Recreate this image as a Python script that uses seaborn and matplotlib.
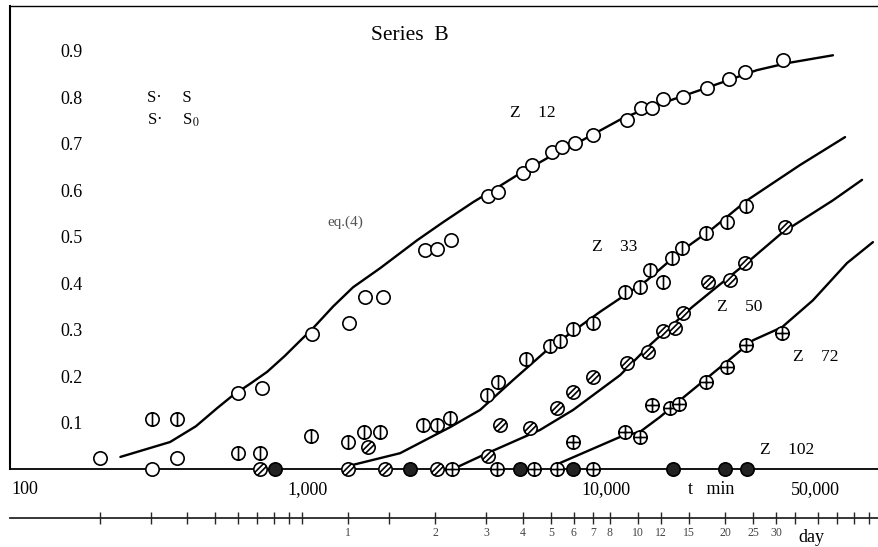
import numpy as np
import matplotlib
matplotlib.use("Agg")
import matplotlib.pyplot as plt
from matplotlib.path import Path
from matplotlib.ticker import NullLocator, NullFormatter
import seaborn as sns

# ---------------- data (t in minutes, S/S0 fraction) ----------------
z12_t = [201, 304, 370, 601, 727, 1081, 1451, 1648, 1901, 2654, 2919, 3262, 4377, 4737,
         5779, 6213, 7271, 7875, 8735, 10080, 13190, 14750, 16090, 17560, 20580, 24910,
         29660, 33650, 45540]
z12_v = [0.024, 0.0, 0.024, 0.163, 0.174, 0.29, 0.314, 0.37, 0.37, 0.471, 0.473, 0.492,
         0.587, 0.596, 0.637, 0.654, 0.682, 0.692, 0.701, 0.718, 0.75, 0.776, 0.776, 0.796,
         0.80, 0.82, 0.839, 0.854, 0.88]

z33_t = [304, 370, 601, 716, 1074, 1440, 1635, 1856, 2612, 2919, 3236, 4342, 4737, 5920,
         7161, 7752, 8597, 10080, 12990, 14630, 15840, 17570, 18860, 20420, 24710, 29200,
         33940]
z33_v = [0.107, 0.107, 0.034, 0.034, 0.071, 0.058, 0.08, 0.08, 0.095, 0.095, 0.11, 0.159,
         0.187, 0.237, 0.265, 0.275, 0.301, 0.314, 0.381, 0.391, 0.428, 0.402, 0.454, 0.475,
         0.508, 0.531, 0.566]

z50_t = [716, 1440, 1688, 1931, 2919, 4377, 4814, 6110, 7569, 8597, 10080, 13190, 15600,
         17570, 19320, 20590, 25100, 29900, 33680, 46270]
z50_v = [0.0, 0.0, 0.047, 0.0, 0.0, 0.028, 0.095, 0.088, 0.131, 0.166, 0.198, 0.228, 0.252,
         0.297, 0.303, 0.335, 0.402, 0.406, 0.443, 0.52]

z72_t = [3289, 4702, 6307, 7569, 8597, 10080, 12990, 14630, 16090, 18570, 19900, 24710,
         29200, 33940, 45170]
z72_v = [0.0, 0.0, 0.0, 0.0, 0.058, 0.0, 0.08, 0.069, 0.138, 0.131, 0.14, 0.187, 0.219,
         0.267, 0.293]

z102_t = [807, 2356, 5642, 8597, 19010, 28730, 34210]
z102_v = [0.0, 0.0, 0.0, 0.0, 0.0, 0.0, 0.0]

# eq.(4) curves
c12_t = [236, 350, 430, 509, 578, 660, 757, 870, 984, 1090, 1280, 1498, 1857, 2490, 3063,
         3885, 4925, 5510, 7200, 9300, 12780, 15830, 23560, 37020, 46980, 67700]
c12_v = [0.026, 0.058, 0.092, 0.131, 0.159, 0.183, 0.209, 0.243, 0.276, 0.303, 0.350,
         0.391, 0.432, 0.492, 0.531, 0.574, 0.613, 0.632, 0.673, 0.708, 0.755, 0.778,
         0.815, 0.858, 0.873, 0.890]

c33_t = [1498, 2176, 3237, 4106, 5330, 6995, 10640, 15470, 20100, 26120, 34230, 52150, 74540]
c33_v = [0.009, 0.034, 0.090, 0.127, 0.191, 0.256, 0.338, 0.406, 0.467, 0.518, 0.578,
         0.654, 0.714]

c50_t = [3368, 4207, 6610, 8597, 12490, 15840, 22100, 26120, 35000, 45170, 67700, 85300]
c50_v = [0.002, 0.030, 0.084, 0.127, 0.202, 0.267, 0.348, 0.385, 0.449, 0.508, 0.578, 0.622]

c72_t = [7752, 12490, 14630, 17150, 20100, 35900, 45170, 57770, 75700, 93000]
c72_v = [0.013, 0.069, 0.080, 0.112, 0.148, 0.277, 0.305, 0.363, 0.443, 0.488]

ytick_vals = [0.1, 0.2, 0.3, 0.4, 0.5, 0.6, 0.7, 0.8, 0.9]
ytick_labels = ["0.1", "0.2", "0.3", "0.4", "0.5", "0.6", "0.7", "0.8", "0.9"]
day_ticks = [1, 2, 3, 4, 5, 6, 7, 8, 10, 12, 15, 20, 25, 30]
day_labels = ["1", "2", "3", "4", "5", "6", "7", "8", "10", "12", "15", "20", "25", "30"]
minute_minor = [200, 300, 400, 500, 600, 700, 800, 900, 1000, 2000,
                50000, 60000, 70000, 80000, 90000]

# ---------------- style ----------------
sns.set_style("white")
plt.rcParams['font.family'] = ['Liberation Serif', 'DejaVu Serif']
plt.rcParams['mathtext.fontset'] = 'stix'

W, H = 879, 547
fig = plt.figure(figsize=(W / 100, H / 100), dpi=100)
ax = fig.add_axes([10 / W, 1 - 469 / H, 1 - 10 / W, (469 - 6) / H])
ax.set_xscale('log')
ax.set_xlim(98.2, 97600)
ax.set_ylim(0, 0.996)


def ring(segs):
    parts = [Path.unit_circle()]
    for s in segs:
        parts.append(Path(s, [Path.MOVETO, Path.LINETO]))
    return Path.make_compound_path(*parts)


m_vbar = ring([[(0, -1), (0, 1)]])
m_cross = ring([[(0, -1), (0, 1)], [(-1, 0), (1, 0)]])
_diag = []
for d in (-0.3, 0.3):
    h = np.sqrt(1 - d * d)
    r = np.sqrt(0.5)
    _diag.append([(-d * r - h * r, d * r - h * r), (-d * r + h * r, d * r + h * r)])
m_diag = ring(_diag)

# curves
for ct, cv in [(c12_t, c12_v), (c33_t, c33_v), (c50_t, c50_v), (c72_t, c72_v)]:
    sns.lineplot(x=ct, y=cv, ax=ax, color='black', linewidth=1.7, sort=False,
                 estimator=None, zorder=2)

# markers
common = dict(ax=ax, s=92, edgecolor='black', linewidth=1.2, clip_on=False, zorder=5)
sns.scatterplot(x=z12_t, y=z12_v, marker='o', color='white', **common)
sns.scatterplot(x=z33_t, y=z33_v, marker=m_vbar, color='white', **common)
sns.scatterplot(x=z50_t, y=z50_v, marker=m_diag, color='white', **common)
sns.scatterplot(x=z72_t, y=z72_v, marker=m_cross, color='white', **common)
sns.scatterplot(x=z102_t, y=z102_v, marker='o', color='#222222', **common)

# axes styling
ax.xaxis.set_major_locator(NullLocator())
ax.xaxis.set_minor_locator(NullLocator())
ax.set_yticks(ytick_vals)
ax.set_yticklabels(ytick_labels)
ax.yaxis.set_minor_locator(NullLocator())
ax.tick_params(axis='y', direction='in', length=11, width=1.2, pad=-36,
               labelsize=13, colors='black')
plt.setp(ax.get_yticklabels(), ha='left')
ax.spines['right'].set_visible(False)
ax.spines['top'].set_linewidth(1.0)
ax.spines['left'].set_linewidth(1.5)
ax.spines['bottom'].set_linewidth(1.3)
for sp in ax.spines.values():
    sp.set_edgecolor('black')
ax.set_xlabel('')
ax.set_ylabel('')
ax.grid(False)

# day axis
sec = ax.secondary_xaxis(-49 / 463, functions=(lambda m: np.asarray(m) / 1440.0,
                                               lambda d: np.asarray(d) * 1440.0))
sec.set_xticks(day_ticks, labels=day_labels)
sec.set_xticks([m / 1440.0 for m in minute_minor], minor=True)
sec.xaxis.set_minor_formatter(NullFormatter())
sec.tick_params(which='both', direction='inout', length=9, width=1.0, pad=2,
                labelsize=8.5, labelcolor='#444444')
sec.spines['bottom'].set_linewidth(1.3)


def px(x, y):
    return x / W, 1 - y / H


txt = dict(va='center', color='black')
fig.text(*px(25, 490), "100", ha='center', fontsize=13, **txt)
fig.text(*px(308, 490), "1,000", ha='center', fontsize=13, **txt)
fig.text(*px(606, 490), "10,000", ha='center', fontsize=13, **txt)
fig.text(*px(711, 490), "t   min", ha='center', fontsize=13, **txt)
fig.text(*px(815, 490), "50,000", ha='center', fontsize=13, **txt)
fig.text(*px(811, 538), "day", ha='center', fontsize=13, **txt)

fig.text(*px(410, 36), "Series  B", ha='center', fontsize=15.5, **txt)
fig.text(*px(147, 98), "S\u00b7     S", ha='left', fontsize=12, **txt)
fig.text(*px(147, 120), "S\u00b7     S$_0$", ha='left', fontsize=12, **txt)
fig.text(*px(510, 113), "Z    12", ha='left', fontsize=12.5, **txt)
fig.text(*px(327, 222), "eq.(4)", ha='left', fontsize=11, color='#555555', va='center')
fig.text(*px(592, 247), "Z    33", ha='left', fontsize=12.5, **txt)
fig.text(*px(717, 307), "Z    50", ha='left', fontsize=12.5, **txt)
fig.text(*px(793, 357), "Z    72", ha='left', fontsize=12.5, **txt)
fig.text(*px(760, 450), "Z    102", ha='left', fontsize=12.5, **txt)

fig.savefig("out.png", dpi=100)
